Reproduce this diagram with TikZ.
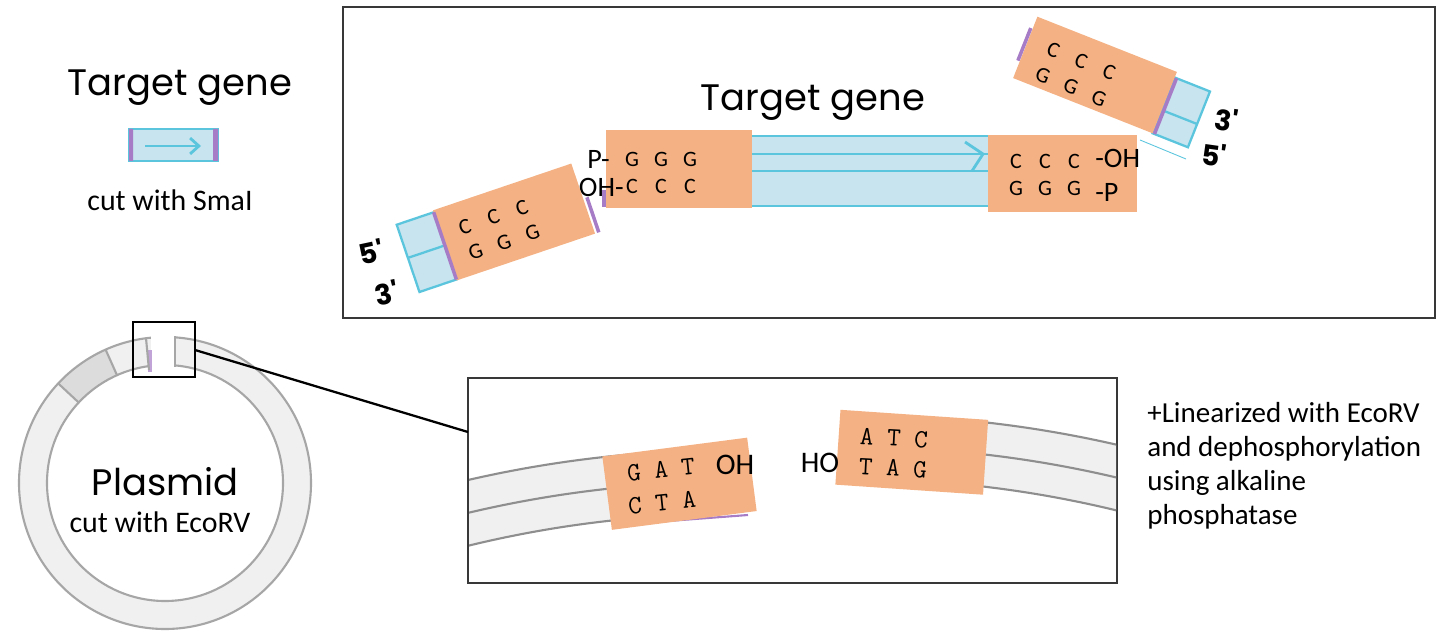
\documentclass[tikz,border=0pt]{standalone}
\usepackage{fontspec}
\setmainfont{Carlito}
\newfontfamily\handfont{Poppins}
\usetikzlibrary{arrows.meta}

\definecolor{seqorange}{HTML}{F4B183}
\definecolor{genefill}{HTML}{C7E4EF}
\definecolor{geneblue}{HTML}{5BC5DD}
\definecolor{cutpurple}{HTML}{A77CC6}
\definecolor{ringfill}{HTML}{F0F0F0}
\definecolor{ringdark}{HTML}{DCDCDC}
\definecolor{ringgray}{HTML}{A6A6A6}
\definecolor{bandgray}{HTML}{8E8E8E}
\definecolor{framegray}{HTML}{383838}

\tikzset{
  frame/.style={draw=framegray,line width=1.6pt},
  geneline/.style={draw=geneblue,line width=1.3pt},
  cutline/.style={draw=cutpurple,line width=2pt},
  ringline/.style={draw=ringgray,line width=1.2pt},
  bandline/.style={draw=bandgray,line width=1.2pt},
  hand/.style={font=\handfont\fontsize{21}{21}\selectfont,inner sep=0pt},
  plain/.style={font=\fontsize{17}{20}\selectfont,inner sep=0pt},
  endlabel/.style={font=\fontsize{16}{16}\selectfont,inner sep=0pt},
  base/.style={font=\fontsize{12.5}{12.5}\selectfont,inner sep=0pt},
  monobase/.style={font=\ttfamily\fontsize{15}{15}\selectfont,inner sep=0pt},
  prime/.style={font=\handfont\bfseries\fontsize{16}{16}\selectfont,inner sep=0pt}
}

\begin{document}
\begin{tikzpicture}[x=0.02cm,y=0.02cm]
\useasboundingbox (0,0) rectangle (1443,-631);

% small gene on the left
\node[hand] (legtitle) at (180,-88) {Target gene};
\fill[genefill] (129,-129) rectangle (218,-161);
\draw[geneline,line width=0.9pt] (129,-129) rectangle (218,-161);
\fill[cutpurple] (129,-129) rectangle (133,-161) (213,-129) rectangle (218,-161);
\draw[geneline,line width=1.6pt,-{Straight Barb[length=5pt,width=9pt]}] (145,-146) -- (201,-146);
\node[plain] (smacut) at (170,-200) {cut with SmaI};

% upper panel
\draw[frame] (343,-7) rectangle (1435,-318);
\node[hand] (genetitle) at (813,-103) {Target gene};

\fill[genefill] (750,-136) rectangle (990,-206);
\draw[geneline] (750,-136) -- (990,-136) (750,-154) -- (990,-154)
  (750,-171) -- (990,-171) (750,-206) -- (990,-206);
\draw[geneline,line width=1.6pt] (965,-142) -- (983,-154) -- (972,-171);
\draw[cutline] (604,-190) -- (604,-207);

\fill[seqorange] (606,-130) rectangle (752,-208);
\fill[seqorange] (988,-135) rectangle (1137,-212);
\foreach \k in {0,1,2} {
  \node[base] at ({632+29*\k},-159) {G};
  \node[base] at ({632+29*\k},-186) {C};
  \node[base] at ({1016+29*\k},-161) {C};
  \node[base] at ({1016+29*\k},-188) {G};
}
\node[endlabel,anchor=east] (lp) at (610,-159) {P-};
\node[endlabel,anchor=east] (loh) at (624,-187) {OH-};
\node[endlabel,anchor=west] (roh) at (1095,-158) {-OH};
\node[endlabel,anchor=west] (rp) at (1095,-192) {-P};

% left piece of the vector end
\begin{scope}[shift={(514,-222)},rotate=18.7]
  \fill[genefill] (-112,-36) rectangle (-73,35);
  \draw[geneline] (-112,-36) rectangle (-73,35) (-112,0) -- (-73,0);
  \fill[seqorange] (-73,-37) rectangle (73,37);
  \draw[cutline] (-73,-36) -- (-73,35);
  \draw[cutline] (77,-37) -- (77,0);
  \foreach \u in {-48,-18,12} {
    \node[base,rotate=18.7] at (\u,11) {C};
    \node[base,rotate=18.7] at (\u+2,-16) {G};
  }
\end{scope}
\node[prime,rotate=12] (l5) at (371,-252) {5'};
\node[prime,rotate=12] (l3) at (387,-293) {3'};

% right piece of the vector end
\begin{scope}[shift={(1095,-75)},rotate=-21.6]
  \fill[genefill] (75,-33) rectangle (113,27);
  \draw[geneline] (75,-33) rectangle (113,27) (75,-8) -- (113,-8);
  \fill[seqorange] (-75,-33) rectangle (75,33);
  \draw[cutline] (77,-33) -- (77,27);
  \draw[cutline] (-77,-15) -- (-77,20);
  \foreach \u in {-48,-18,12} {
    \node[base,rotate=-21.6] at (\u,8) {C};
    \node[base,rotate=-21.6] at (\u,-20) {G};
  }
\end{scope}
\draw[geneline,line width=0.5pt] (1140,-140) -- (1186,-159);
\node[prime,rotate=-8] (r3) at (1227,-120) {3'};
\node[prime,rotate=-8] (r5) at (1214,-155) {5'};

% plasmid ring
\begin{scope}[shift={(165,-483)}]
  \fill[ringfill,even odd rule] (0,0) circle (146) (0,0) circle (118);
  \fill[ringdark] (114:118) -- (114:146) arc[start angle=114,end angle=137,radius=146]
    -- (137:118) arc[start angle=137,end angle=114,radius=118] -- cycle;
  \draw[ringline] (0,0) circle (146) (0,0) circle (118);
  \draw[ringline] (114:118) -- (114:146) (137:118) -- (137:146);
\end{scope}
\fill[white] (151,-326) rectangle (174,-376);
\fill[cutpurple!70] (148,-350) rectangle (152,-372);
\draw[ringline] (146,-338) -- (149,-370);
\draw[ringline] (175,-336) -- (175,-367);
\draw[line width=1.3pt] (133,-322) rectangle (195,-377);
\coordinate (zoomA) at (195,-350);
\node[hand] (plasmid) at (165,-482) {Plasmid};
\node[plain] (ecocut) at (160,-522) {cut with EcoRV};

% lower panel
\draw[frame] (468,-378) rectangle (1117,-583);
\coordinate (zoomB) at (468,-432);
\draw[line width=1.3pt] (zoomA) -- (zoomB);

\begin{scope}
  \clip (469,-379) rectangle (1116,-582);
  \begin{scope}[shift={(732,-1626)}]
    \fill[ringfill] (93:1176) arc[start angle=93,end angle=110,radius=1176]
      -- (110:1112) arc[start angle=110,end angle=93,radius=1112] -- cycle;
    \foreach \r in {1176,1144,1112}
      \draw[bandline] (93:\r) arc[start angle=93,end angle=110,radius=\r];
  \end{scope}
  \begin{scope}[shift={(854,-1591)}]
    \fill[ringfill] (84:1176) arc[start angle=84,end angle=70,radius=1176]
      -- (70:1112) arc[start angle=70,end angle=84,radius=1112] -- cycle;
    \foreach \r in {1176,1144,1112}
      \draw[bandline] (84:\r) arc[start angle=84,end angle=70,radius=\r];
  \end{scope}
\end{scope}

\draw[cutline,line width=1.2pt] (655,-522) -- (748,-515);
\begin{scope}[shift={(679.5,-483.75)},rotate=7.4]
  \fill[seqorange] (-73,-37) rectangle (73,37);
\end{scope}
\begin{scope}[shift={(911.75,-452.25)},rotate=-3.9]
  \fill[seqorange] (-74,-37.5) rectangle (74,37.5);
\end{scope}
\node[monobase,rotate=6] (gat) at (661,-470) {G A T};
\node[monobase,rotate=6] (cta) at (662,-503) {C T A};
\node[monobase,rotate=-3] (atc) at (894,-438) {A T C};
\node[monobase,rotate=-3] (tag) at (893,-468) {T A G};
\node[endlabel,font=\fontsize{17}{17}\selectfont] (oh) at (735,-465) {OH};
\node[endlabel,font=\fontsize{17}{17}\selectfont] (ho) at (820,-463) {HO};

\node[plain,font=\fontsize{16.5}{19.4}\selectfont,align=left,anchor=north west]
  (note) at (1147,-402)
  {+Linearized with EcoRV\\and dephosphorylation\\using alkaline\\phosphatase};
\end{tikzpicture}
\end{document}
